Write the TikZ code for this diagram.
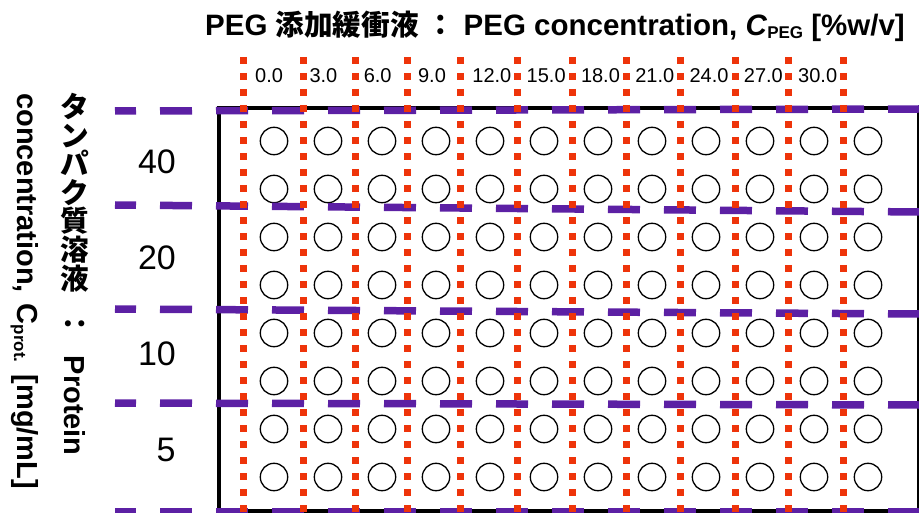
\documentclass[tikz,border=0pt]{standalone}
\usepackage{fontspec}
\setmainfont{Liberation Sans}
\newfontfamily\cjk{Noto Sans CJK JP}
\definecolor{pegcol}{RGB}{238,52,10}
\definecolor{protcol}{RGB}{92,32,164}
\newcommand{\cjkt}[1]{{\fontsize{28.6}{32}\selectfont\cjk #1}}
\tikzset{
  frameline/.style={line width=4pt, black},
  circ/.style={line width=1.3pt, black},
  protline/.style={protcol, line width=7.5pt, dash pattern=on 32pt off 24pt, dash phase=11pt},
  pegline/.style={pegcol, line width=7pt, dash pattern=on 7pt off 9pt},
  ticklab/.style={font=\fontsize{20}{24}\selectfont, anchor=base west, inner sep=0pt},
  rowlab/.style={font=\fontsize{34}{40}\selectfont, inner sep=0pt},
  titlelab/.style={font=\fontsize{29.5}{32}\selectfont\bfseries, inner sep=0pt},
  axislab/.style={font=\fontsize{29}{32}\selectfont\bfseries, inner sep=0pt},
}
\begin{document}
\begin{tikzpicture}[x=1pt,y=-1pt]
\path[use as bounding box] (0,0) rectangle (919,513);
% frame
\draw[frameline] (918,108.5) -- (218.5,108.5) -- (218.5,511) -- (918,511);
\draw[line width=1.2pt] (918,108.5) -- (918,511);
% wells
\foreach \i in {0,...,11} {
  \foreach \j in {0,...,7} {
    \draw[circ] (274+54*\i,141+48*\j) circle[radius=13.7];
  }
}
% protein concentration boundaries
\draw[protline] (115,111) -- (919,109);
\draw[protline] (115,205) -- (919,212);
\draw[protline] (115,309) -- (919,314);
\draw[protline] (115,403) -- (919,405);
\draw[protline] (115,512) -- (919,512);
% PEG boundaries
\foreach \x in {243,303,355,407,460,517,572,626,680,735,788,843} {
  \draw[pegline] (\x,57) -- (\x,513);
}
% PEG tick labels
\foreach \v [count=\k from 0] in {0.0,3.0,6.0,9.0,12.0,15.0,18.0,21.0,24.0,27.0,30.0} {
  \node[ticklab] (t\k) at (255+54.3*\k,83) {\v};
}
% row labels
\node[rowlab] (r40) at (157,162) {40};
\node[rowlab] (r20) at (157,258) {20};
\node[rowlab] (r10) at (157,354) {10};
\node[rowlab] (r5) at (166,450) {5};
% title
\node[titlelab, anchor=base west] (title) at (205,36)
  {PEG \cjkt{添加緩衝液} \cjkt{：} PEG concentration, \textit{C}\raisebox{-2.5pt}{\fontsize{17}{17}\selectfont PEG} [\%w/v]};
% vertical axis labels
\node[axislab, align=center, anchor=north, font=\fontsize{28.6}{28.6}\selectfont\bfseries\cjk] (jp) at (75,93)
  {タ\\ン\\パ\\ク\\質\\溶\\液};
\node[axislab, rotate=-90, anchor=base west] (jp2) at (64,309)
  {\cjkt{：}\hspace{18pt}Protein};
\node[axislab, rotate=-90, anchor=base west] (en2) at (17,93)
  {concentration,\hspace{11pt}C\raisebox{-3pt}{\fontsize{17}{17}\selectfont prot.}\hspace{12pt}[mg/mL]};
\end{tikzpicture}
\end{document}
